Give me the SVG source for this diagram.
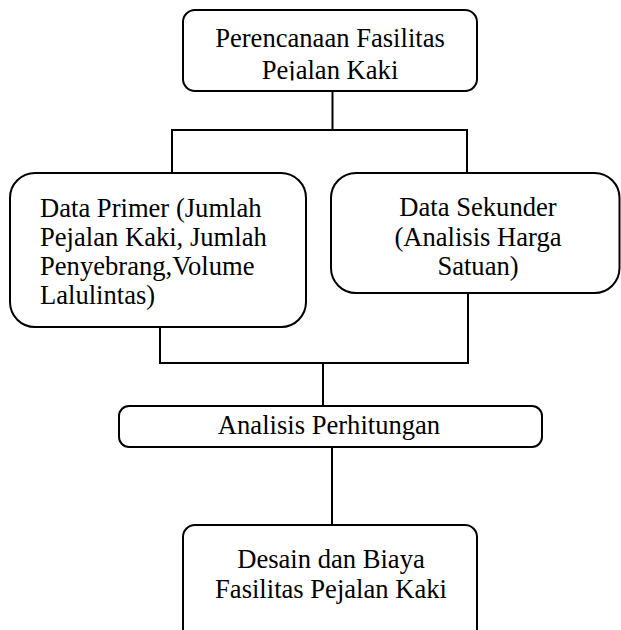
<svg xmlns="http://www.w3.org/2000/svg" width="621" height="630" viewBox="0 0 621 630">
<style>
.box{fill:#fff;stroke:#000;stroke-width:2}
.ln{stroke:#000;stroke-width:2;fill:none}
text{font-family:"Liberation Serif","Times New Roman",serif;font-size:26.6px;fill:#000}
.c{text-anchor:middle}
</style>
<defs>
<clipPath id="clipTop"><rect x="183" y="10" width="294" height="70.5"/></clipPath>
</defs>
<rect width="621" height="630" fill="#fff"/>
<g id="connectors">
<line class="ln" x1="332.5" y1="91" x2="332.5" y2="130"/>
<polyline class="ln" points="172,173 172,130 467,130 467,173"/>
<polyline class="ln" points="160,327 160,363 468,363 468,293"/>
<line class="ln" x1="323" y1="363" x2="323" y2="406"/>
<line class="ln" x1="332" y1="447" x2="332" y2="525"/>
</g>
<g id="node-perencanaan">
<rect class="box" x="183" y="10" width="294" height="81" rx="12"/>
<g clip-path="url(#clipTop)">
<text class="c" x="330" y="47">Perencanaan Fasilitas</text>
<text class="c" x="330" y="78.5">Pejalan Kaki</text>
</g>
</g>
<g id="node-primer">
<rect class="box" x="10" y="173" width="296" height="154" rx="25"/>
<text x="40" y="217">Data Primer (Jumlah</text>
<text x="40" y="246">Pejalan Kaki, Jumlah</text>
<text x="40" y="275">Penyebrang,Volume</text>
<text x="40" y="304">Lalulintas)</text>
</g>
<g id="node-sekunder">
<rect class="box" x="331" y="173" width="288.5" height="120" rx="25"/>
<text class="c" x="478" y="216">Data Sekunder</text>
<text class="c" x="478" y="246">(Analisis Harga</text>
<text class="c" x="478" y="275">Satuan)</text>
</g>
<g id="node-analisis">
<rect class="box" x="119" y="406" width="423" height="41" rx="10"/>
<text class="c" x="329" y="434">Analisis Perhitungan</text>
</g>
<g id="node-desain">
<rect class="box" x="183" y="525" width="294" height="120" rx="12"/>
<text class="c" x="331" y="568">Desain dan Biaya</text>
<text class="c" x="331" y="598">Fasilitas Pejalan Kaki</text>
</g>
</svg>
